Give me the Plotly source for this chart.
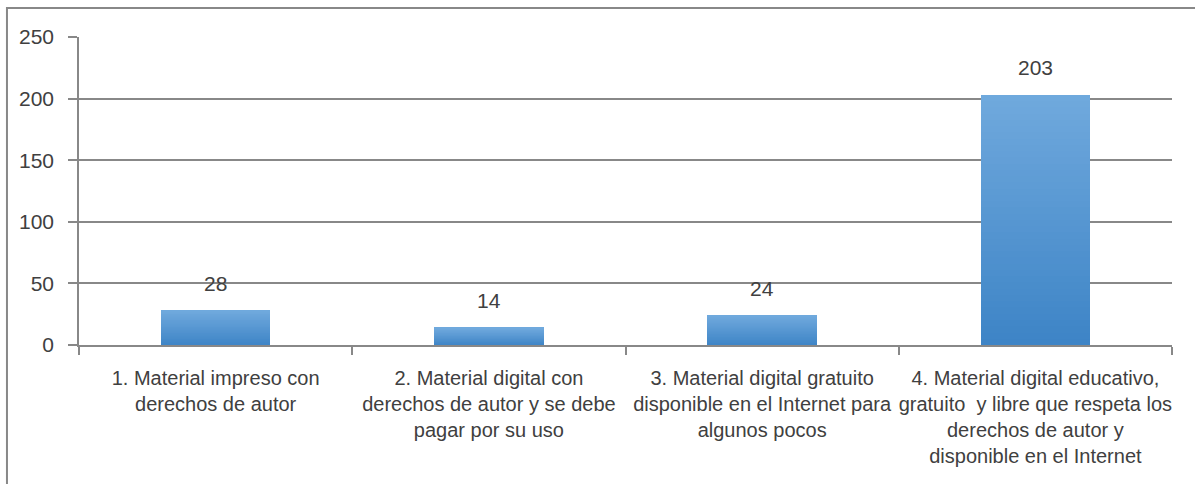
import plotly.graph_objects as go

# Survey data: preferred type of material
categories = [
    "1. Material impreso con<br>derechos de autor",
    "2. Material digital con<br>derechos de autor y se debe<br>pagar por su uso",
    "3. Material digital gratuito<br>disponible en el Internet para<br>algunos pocos",
    "4. Material digital educativo,<br>gratuito  y libre que respeta los<br>derechos de autor y<br>disponible en el Internet",
]
values = [28, 14, 24, 203]
y_ticks = [0, 50, 100, 150, 200, 250]

FONT = "Liberation Sans, Arial, sans-serif"
TEXT = "#404040"
GRID = "#888888"

# vertical gradient per bar: darker blue at the base, lighter at the top
dark = (0x3D, 0x84, 0xC6)
light = (0x70, 0xA9, 0xDD)
N = 40


def lerp(a, b, t):
    return "rgb({},{},{})".format(*[round(a[i] + (b[i] - a[i]) * t) for i in range(3)])


fig = go.Figure()
for k in range(N):
    fig.add_trace(go.Bar(
        x=categories,
        y=[v / N for v in values],
        marker=dict(color=lerp(dark, light, (k + 0.5) / N), line=dict(width=0)),
        hoverinfo="skip",
        showlegend=False,
    ))

# value labels above each bar
for c, v in zip(categories, values):
    fig.add_annotation(
        x=c, y=v, text=str(v), showarrow=False,
        yanchor="middle", yshift=27,
        font=dict(family=FONT, size=21, color=TEXT),
    )

# outer frame of the chart
fig.add_shape(
    type="rect", xref="paper", yref="paper",
    x0=-0.0659, x1=1.2, y0=-1.0, y1=1.094,
    line=dict(color=GRID, width=2), layer="below",
)

fig.update_layout(
    width=1195, height=484,
    barmode="stack", bargap=0.6,
    margin=dict(l=79, r=23, t=37, b=139),
    paper_bgcolor="white", plot_bgcolor="white",
    font=dict(family=FONT, size=20, color=TEXT),
    xaxis=dict(
        type="category", showline=True, linecolor=GRID, linewidth=1.5,
        ticks="outside", tickson="boundaries", ticklen=8, tickcolor=GRID,
        tickwidth=1.5, showgrid=False, tickangle=0, automargin=False,
        ticklabelstandoff=14,
        tickfont=dict(family=FONT, size=20, color=TEXT),
    ),
    yaxis=dict(
        range=[0, 250], tickvals=y_ticks, showline=True, linecolor=GRID,
        linewidth=1.5, ticks="outside", ticklen=9, tickcolor=GRID, tickwidth=1.5,
        showgrid=True, gridcolor=GRID, gridwidth=1.5, zeroline=False,
        automargin=False, ticklabelstandoff=10,
        tickfont=dict(family=FONT, size=21, color=TEXT),
    ),
)

fig.write_html("out.html")
